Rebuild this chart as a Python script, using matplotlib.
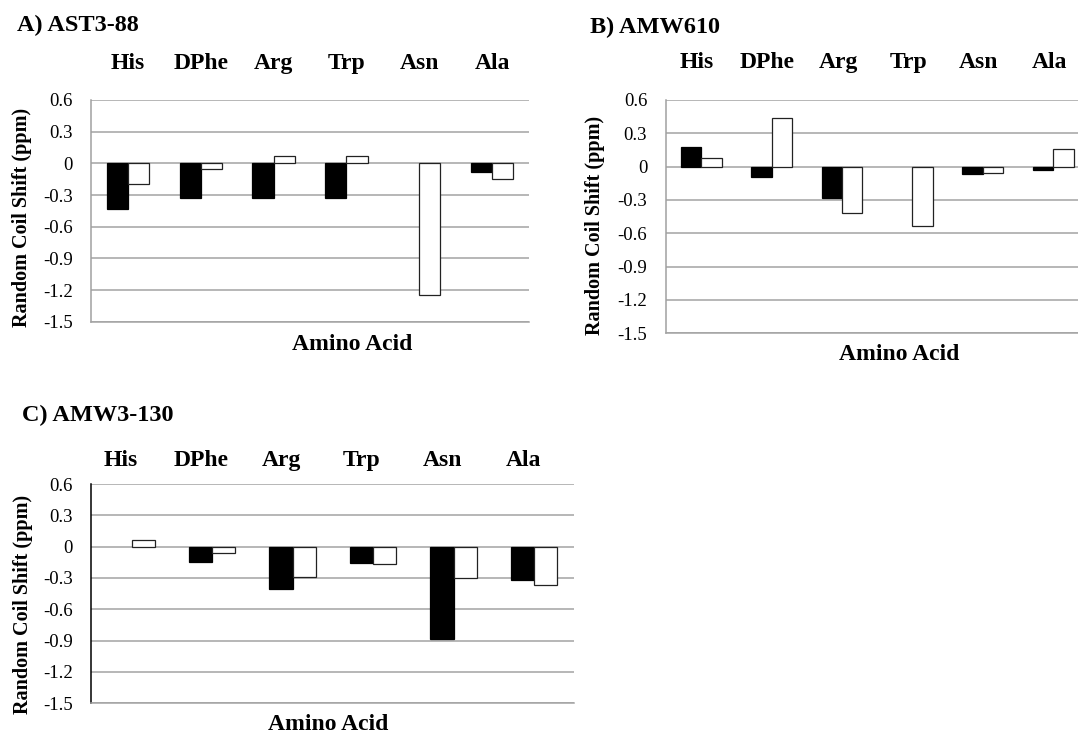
import matplotlib
matplotlib.use("Agg")
import matplotlib.pyplot as plt
import numpy as np

plt.rcParams['font.family'] = ['Liberation Serif', 'DejaVu Serif']

W, H = 1078, 734

amino = ["His", "DPhe", "Arg", "Trp", "Asn", "Ala"]
ticks = [0.6, 0.3, 0, -0.3, -0.6, -0.9, -1.2, -1.5]
tick_labels = ["0.6", "0.3", "0", "-0.3", "-0.6", "-0.9", "-1.2", "-1.5"]

titles = ["A) AST3-88", "B) AMW610", "C) AMW3-130"]

# filled (black) and open (white) bars per panel
a_black = [-0.43, -0.33, -0.33, -0.33, 0.0, -0.08]
a_white = [-0.20, -0.05, 0.07, 0.07, -1.25, -0.15]
b_black = [0.18, -0.09, -0.28, 0.0, -0.07, -0.03]
b_white = [0.08, 0.44, -0.42, -0.53, -0.06, 0.16]
c_black = [0.0, -0.15, -0.41, -0.16, -0.88, -0.32]
c_white = [0.06, -0.06, -0.29, -0.17, -0.30, -0.37]


def px(x, y):
    return x / W, 1 - y / H


def edge_widths(vals, lw):
    # a bar of height zero shows nothing in the original
    return [lw if v != 0 else 0 for v in vals]


fig = plt.figure(figsize=(W / 100, H / 100), dpi=100)
fig.patch.set_facecolor("white")

# layout in pixels: left, top, right, bottom of plot area
layout = [
    dict(box=(91.3, 100, 528.7, 321.7), title=(17, 25), lab_y=61, lab_dx=0,
         ylab=(22, 217), xlab=(352, 345), spine="#a0a0a0"),
    dict(box=(666, 100, 1088.4, 333.3), title=(590, 27), lab_y=60, lab_dx=-4,
         ylab=(595, 225), xlab=(899, 355), spine="#a0a0a0"),
    dict(box=(91.3, 484, 574.3, 703.3), title=(22, 415), lab_y=458, lab_dx=-11,
         ylab=(23, 604), xlab=(328.5, 725), spine="#000000"),
]
series = [(a_black, a_white), (b_black, b_white), (c_black, c_white)]

w = 0.29
x = np.arange(len(amino))

for lay, (blk, wht), title in zip(layout, series, titles):
    l, t, r, b = lay["box"]
    ax = fig.add_axes([l / W, 1 - b / H, (r - l) / W, (b - t) / H])
    ax.bar(x - w / 2, blk, w, color="black", edgecolor="black",
           linewidth=edge_widths(blk, 0.9), zorder=3)
    ax.bar(x + w / 2, wht, w, color="white", edgecolor="#222222",
           linewidth=edge_widths(wht, 0.9), zorder=3)
    ax.set_xlim(-0.5, len(amino) - 0.5)
    ax.set_ylim(-1.5, 0.6)
    ax.set_yticks(ticks)
    ax.set_yticklabels(tick_labels, fontsize=13.5)
    ax.tick_params(axis="y", length=0, pad=13.5)
    ax.set_xticks([])
    ax.set_axisbelow(True)
    ax.yaxis.grid(True, color="#a3a3a3", linewidth=1.1)
    for s in ["top", "right"]:
        ax.spines[s].set_visible(False)
    ax.spines["bottom"].set_color("#a3a3a3")
    ax.spines["bottom"].set_linewidth(1.1)
    ax.spines["left"].set_color(lay["spine"])
    ax.spines["left"].set_linewidth(1.1)

    # category names above the plot, sharing one baseline
    for i, name in enumerate(amino):
        xd = ax.transData.transform((i, 0))[0]
        fig.text((xd + lay["lab_dx"]) / W, 1 - (lay["lab_y"] + 8) / H, name,
                 fontsize=17, fontweight="bold", ha="center", va="baseline")

    tx, ty = px(*lay["title"])
    fig.text(tx, ty, title, fontsize=17.5, fontweight="bold", ha="left", va="center")
    yx, yy = px(*lay["ylab"])
    fig.text(yx, yy, "Random Coil Shift (ppm)", fontsize=14.5, fontweight="bold",
             rotation=90, ha="center", va="center")
    xx, xy = px(*lay["xlab"])
    fig.text(xx, xy, "Amino Acid", fontsize=17, fontweight="bold", ha="center", va="center")

fig.savefig("out.png", dpi=100, facecolor="white")
